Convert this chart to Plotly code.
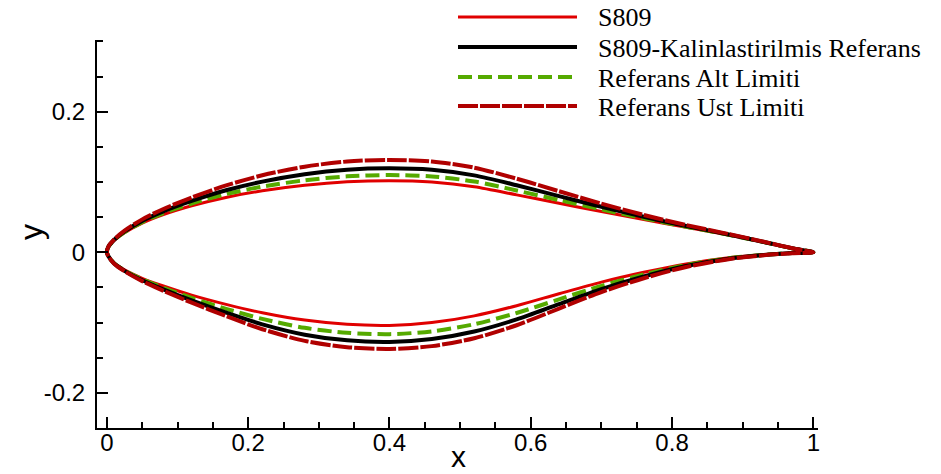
import plotly.graph_objects as go

# Shared chord stations: upper surface TE -> LE, then lower surface LE -> TE
x_upper = [1.0, 0.97, 0.93, 0.88, 0.82, 0.76, 0.70, 0.64, 0.58, 0.52, 0.46, 0.40,
           0.34, 0.28, 0.22, 0.17, 0.12, 0.08, 0.05, 0.025, 0.01, 0.002, 0.0]
x_lower = [0.002, 0.01, 0.025, 0.05, 0.08, 0.12, 0.17, 0.22, 0.28, 0.34, 0.40, 0.46,
           0.52, 0.58, 0.64, 0.70, 0.76, 0.82, 0.88, 0.93, 0.97, 1.0]

# S809
s809_up = [0.0, 0.0055, 0.0143, 0.0245, 0.0355, 0.0466, 0.0580, 0.0697, 0.0817, 0.0933,
           0.1001, 0.1019, 0.1002, 0.0952, 0.0874, 0.0784, 0.0661, 0.0536, 0.0415, 0.0278,
           0.0165, 0.0072, 0.0]
s809_lo = [-0.0050, -0.0150, -0.0250, -0.0370, -0.0480, -0.0610, -0.0745, -0.0860, -0.0965,
           -0.1025, -0.1040, -0.1000, -0.0905, -0.0760, -0.0590, -0.0425, -0.0285, -0.0165,
           -0.0078, -0.0032, -0.0010, 0.0]

# S809-Kalinlastirilmis Referans
ref_up = [0.0, 0.0057, 0.0147, 0.0254, 0.0374, 0.0505, 0.0647, 0.0799, 0.0954, 0.1094,
          0.1173, 0.1194, 0.1174, 0.1110, 0.1005, 0.0886, 0.0731, 0.0583, 0.0447, 0.0296,
          0.0174, 0.0076, 0.0]
ref_lo = [-0.0052, -0.0157, -0.0264, -0.0398, -0.0527, -0.0685, -0.0863, -0.1025, -0.1172,
          -0.1253, -0.1275, -0.1235, -0.1128, -0.0955, -0.0738, -0.0524, -0.0344, -0.0196,
          -0.0092, -0.0039, -0.0012, 0.0]

# Referans Alt Limiti
alt_up = [0.0, 0.0056, 0.0145, 0.0249, 0.0364, 0.0484, 0.0610, 0.0743, 0.0879, 0.1007,
          0.1079, 0.1099, 0.1080, 0.1024, 0.0934, 0.0830, 0.0693, 0.0558, 0.0429, 0.0286,
          0.0169, 0.0074, 0.0]
alt_lo = [-0.0051, -0.0154, -0.0258, -0.0385, -0.0505, -0.0650, -0.0808, -0.0948, -0.1075,
          -0.1146, -0.1165, -0.1125, -0.1024, -0.0864, -0.0669, -0.0478, -0.0316, -0.0181,
          -0.0086, -0.0036, -0.0011, 0.0]

# Referans Ust Limiti
ust_up = [0.0, 0.0058, 0.0149, 0.0260, 0.0387, 0.0531, 0.0692, 0.0868, 0.1047, 0.1204,
          0.1290, 0.1314, 0.1291, 0.1218, 0.1095, 0.0955, 0.0779, 0.0616, 0.0468, 0.0308,
          0.0180, 0.0078, 0.0]
ust_lo = [-0.0053, -0.0160, -0.0270, -0.0410, -0.0547, -0.0717, -0.0913, -0.1095, -0.1260,
          -0.1350, -0.1375, -0.1335, -0.1223, -0.1038, -0.0801, -0.0566, -0.0369, -0.0209,
          -0.0098, -0.0042, -0.0013, 0.0]

names = ["S809", "S809-Kalinlastirilmis Referans", "Referans Alt Limiti", "Referans Ust Limiti"]

x_tick_vals = [0, 0.2, 0.4, 0.6, 0.8, 1]
x_tick_text = ["0", "0.2", "0.4", "0.6", "0.8", "1"]
y_tick_vals = [-0.2, 0, 0.2]
y_tick_text = ["-0.2", "0", "0.2"]
x_title = "x"
y_title = "y"

styles = {
    "S809": dict(color="#e00000", width=3, dash="solid"),
    "S809-Kalinlastirilmis Referans": dict(color="#000000", width=4, dash="solid"),
    "Referans Alt Limiti": dict(color="#55aa00", width=4, dash="14px,6px"),
    "Referans Ust Limiti": dict(color="#b00000", width=4, dash="20px,2px"),
}

xs = x_upper + x_lower
series = {
    "S809": s809_up + s809_lo,
    "S809-Kalinlastirilmis Referans": ref_up + ref_lo,
    "Referans Alt Limiti": alt_up + alt_lo,
    "Referans Ust Limiti": ust_up + ust_lo,
}

fig = go.Figure()
# drawing order: red, green, black, dark red on top
for nm in ["S809", "Referans Alt Limiti", "S809-Kalinlastirilmis Referans", "Referans Ust Limiti"]:
    st = styles[nm]
    fig.add_trace(go.Scatter(x=xs, y=series[nm], mode="lines", name=nm, showlegend=False,
                             line=dict(color=st["color"], width=st["width"], dash=st["dash"],
                                       shape="spline", smoothing=0.8)))

# plot-area geometry (px) for placing the legend and titles
L, R, T, B = 97, 818, 40, 428
def px_x(p):
    return (p - L) / (R - L)
def px_y(p):
    return (B - p) / (B - T)

legend_rows = [17, 47, 77, 106]
shapes = []
annotations = []
for nm, row in zip(names, legend_rows):
    st = styles[nm]
    shapes.append(dict(type="line", xref="paper", yref="paper",
                       x0=px_x(458), x1=px_x(577), y0=px_y(row), y1=px_y(row),
                       line=dict(color=st["color"], width=st["width"], dash=st["dash"])))
    annotations.append(dict(text=nm, xref="paper", yref="paper", x=px_x(596), y=px_y(row + 1),
                            xanchor="left", yanchor="middle", showarrow=False,
                            font=dict(family="Liberation Serif, Times New Roman, serif", size=26, color="black")))

annotations.append(dict(text=x_title, xref="paper", yref="paper", x=px_x(458), y=px_y(456),
                        xanchor="center", yanchor="middle", showarrow=False,
                        font=dict(family="Liberation Sans, Arial, sans-serif", size=30, color="black")))
annotations.append(dict(text=y_title, xref="paper", yref="paper", x=px_x(31), y=px_y(232),
                        xanchor="center", yanchor="middle", showarrow=False, textangle=-90,
                        font=dict(family="Liberation Sans, Arial, sans-serif", size=32, color="black")))

axis_font = dict(family="Liberation Sans, Arial, sans-serif", size=24, color="black")

fig.update_layout(
    width=941, height=474,
    margin=dict(l=L, r=941 - R, t=T, b=474 - B, autoexpand=False),
    paper_bgcolor="white", plot_bgcolor="white",
    showlegend=False,
    shapes=shapes, annotations=annotations,
    xaxis=dict(
        range=[-0.014, 1.0066], showgrid=False, zeroline=False,
        showline=True, linecolor="black", linewidth=2,
        ticks="inside", ticklen=11, tickwidth=2, tickcolor="black",
        tickvals=x_tick_vals, ticktext=x_tick_text, tickfont=axis_font,
        ticklabelstandoff=-8,
        minor=dict(dtick=0.05, tick0=0, ticks="inside", ticklen=6, tickwidth=1.5, tickcolor="black", showgrid=False),
    ),
    yaxis=dict(
        range=[-0.25, 0.302], showgrid=False, zeroline=False,
        showline=True, linecolor="black", linewidth=2,
        ticks="inside", ticklen=11, tickwidth=2, tickcolor="black",
        tickvals=y_tick_vals, ticktext=y_tick_text, tickfont=axis_font,
        ticklabelstandoff=5,
        minor=dict(dtick=0.05, tick0=0, ticks="inside", ticklen=6, tickwidth=1.5, tickcolor="black", showgrid=False),
    ),
)

fig.write_html("out.html")
